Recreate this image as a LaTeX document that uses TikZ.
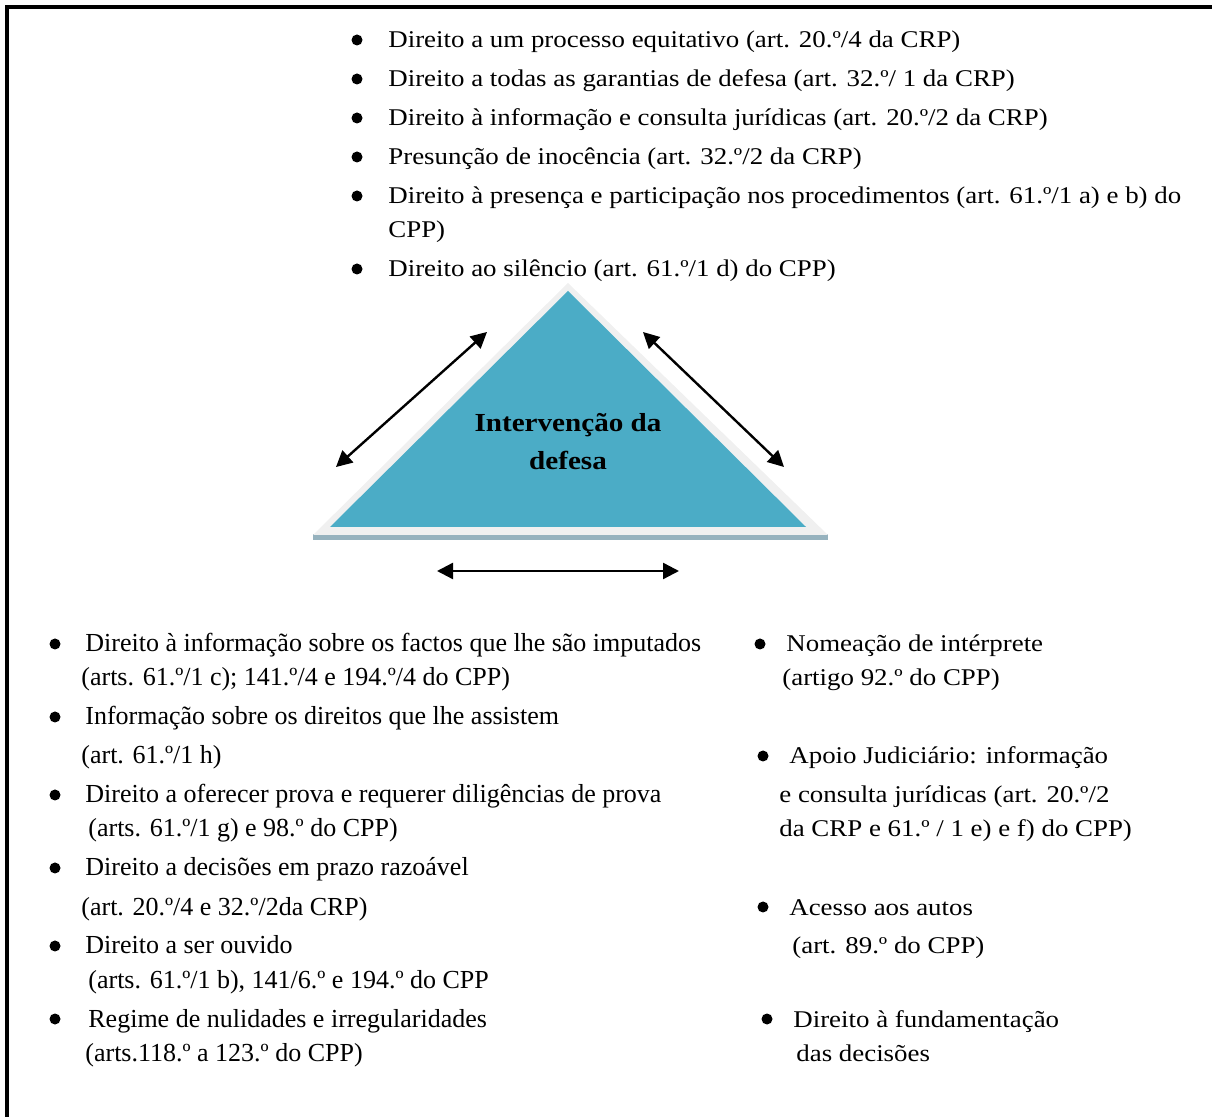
\documentclass[tikz,border=0pt]{standalone}
\usepackage{fontspec}
\setmainfont{Liberation Serif}[FakeStretch=1.12]
\newfontfamily\plainserif{Liberation Serif}
\usetikzlibrary{arrows.meta,positioning}
\usepackage{xcolor}
\definecolor{triteal}{RGB}{75,172,198}
\definecolor{tririm}{RGB}{240,240,240}
\definecolor{trishade}{RGB}{150,178,190}

\begin{document}
\begin{tikzpicture}[x=0.5pt, y=-0.5pt, >={Triangle[length=8pt,width=8pt]}]
\tikzset{
  txt/.style={anchor=base west, inner sep=0pt, font=\fontsize{12}{14}\selectfont},
  ntxt/.style={anchor=base west, inner sep=0pt, font=\plainserif\fontsize{13}{15}\selectfont},
  dot/.style={circle, fill=black, inner sep=0pt, minimum size=5.5pt},
  link/.style={<->, line width=1.2pt}
}
\useasboundingbox (0,0) rectangle (1212,1117);
\draw[line width=1.6pt] (7,1117) -- (7,7) -- (1212,7);

% upper list
\node[dot] (d1) at (357,40) {};
\node[txt] (t1) at (388,48) {Direito a um processo equitativo (art. 20.º/4 da CRP)};
\node[dot] (d2) at (357,79) {};
\node[txt] (t2) at (388,87) {Direito a todas as garantias de defesa (art. 32.º/ 1 da CRP)};
\node[dot] (d3) at (357,118) {};
\node[txt] (t3) at (388,126) {Direito à informação e consulta jurídicas (art. 20.º/2 da CRP)};
\node[dot] (d4) at (357,157) {};
\node[txt] (t4) at (388,165) {Presunção de inocência (art. 32.º/2 da CRP)};
\node[dot] (d5) at (357,196) {};
\node[txt] (t5) at (388,204) {Direito à presença e participação nos procedimentos (art. 61.º/1 a) e b) do};
\node[txt] (t5b) at (388,238) {CPP)};
\node[dot] (d6) at (357,269) {};
\node[txt] (t6) at (388,277) {Direito ao silêncio (art. 61.º/1 d) do CPP)};

% triangle
\fill[trishade] (313,534) rectangle (828,540);
\fill[tririm] (568,283) -- (828,535) -- (313,535) -- cycle;
\fill[triteal] (568,291) -- (806,527) -- (330,527) -- cycle;
\node[align=center, font=\bfseries\fontsize{13}{19}\selectfont] (defesa) at (568,442) {Intervenção da\\defesa};

\coordinate (la) at (336,467);
\coordinate (lb) at (487,332);
\coordinate (ra) at (643,332);
\coordinate (rb) at (784,467);
\coordinate (ha) at (437,571);
\coordinate (hb) at (679,571);
\draw[link] (la) -- (lb);
\draw[link] (ra) -- (rb);
\draw[link] (ha) -- (hb);

% lower left list
\node[dot] (e1) at (55,644) {};
\node[ntxt] (l1) at (85,652) {Direito à informação sobre os factos que lhe são imputados};
\node[ntxt] (l1b) at (81,686) {(arts. 61.º/1 c); 141.º/4 e 194.º/4 do CPP)};
\node[dot] (e2) at (55,717) {};
\node[ntxt] (l2) at (85,725) {Informação sobre os direitos que lhe assistem};
\node[ntxt] (l2b) at (81,764) {(art. 61.º/1 h)};
\node[dot] (e3) at (55,795) {};
\node[ntxt] (l3) at (85,803) {Direito a oferecer prova e requerer diligências de prova};
\node[ntxt] (l3b) at (88,837) {(arts. 61.º/1 g) e 98.º do CPP)};
\node[dot] (e4) at (55,868) {};
\node[ntxt] (l4) at (85,876) {Direito a decisões em prazo razoável};
\node[ntxt] (l4b) at (81,915) {(art. 20.º/4 e 32.º/2da CRP)};
\node[dot] (e5) at (55,946) {};
\node[ntxt] (l5) at (85,954) {Direito a ser ouvido};
\node[ntxt] (l5b) at (88,988) {(arts. 61.º/1 b), 141/6.º e 194.º do CPP};
\node[dot] (e6) at (55,1019) {};
\node[ntxt] (l6) at (88,1027) {Regime de nulidades e irregularidades};
\node[ntxt] (l6b) at (85,1061) {(arts.118.º a 123.º do CPP)};

% lower right list
\node[dot] (f1) at (760,644) {};
\node[txt] (r1) at (786,652) {Nomeação de intérprete};
\node[txt] (r1b) at (782,686) {(artigo 92.º do CPP)};
\node[dot] (f2) at (763,756) {};
\node[txt] (r2) at (789,764) {Apoio Judiciário: informação};
\node[txt] (r2b) at (779,803) {e consulta jurídicas (art. 20.º/2};
\node[txt] (r2c) at (779,837) {da CRP e 61.º / 1 e) e f) do CPP)};
\node[dot] (f3) at (763,907) {};
\node[txt] (r3) at (789,915) {Acesso aos autos};
\node[txt] (r3b) at (792,954) {(art. 89.º do CPP)};
\node[dot] (f4) at (767,1019) {};
\node[txt] (r4) at (793,1027) {Direito à fundamentação};
\node[txt] (r4b) at (796,1061) {das decisões};
\end{tikzpicture}
\end{document}
